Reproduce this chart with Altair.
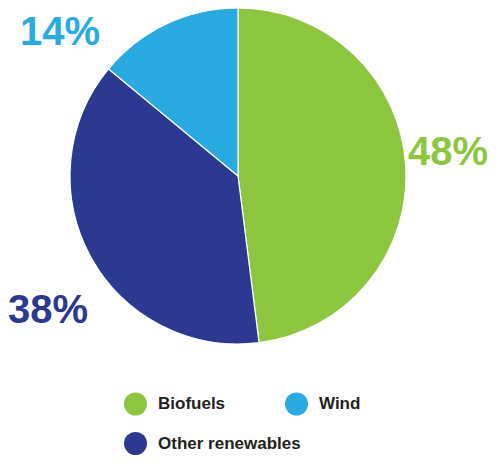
import altair as alt
import pandas as pd

categories = ["Biofuels", "Other renewables", "Wind"]
shares = [48, 38, 14]
legend_order = ["Biofuels", "Wind", "Other renewables"]
colors = ["#8CC63F", "#29ABE2", "#2B3990"]
labels = ["48%", "38%", "14%"]

df = pd.DataFrame({
    "category": categories,
    "share": shares,
    "label": labels,
    "order": list(range(len(categories))),
})

color_scale = alt.Scale(domain=legend_order, range=colors)

legend_style = dict(
    title=None,
    orient="none",
    direction="horizontal",
    symbolType="circle",
    symbolSize=529,
    symbolStrokeWidth=0,
    symbolOpacity=1,
    labelFont="Liberation Sans",
    labelFontWeight="bold",
    labelFontSize=17,
    labelColor="#231F20",
    labelOffset=11,
    labelLimit=300,
)

base = alt.Chart(df)

pie = base.mark_arc(outerRadius=168, stroke="white", strokeWidth=1.2).encode(
    theta=alt.Theta("share:Q", stack=True),
    order=alt.Order("order:Q"),
    color=alt.Color(
        "category:N",
        scale=color_scale,
        sort=legend_order,
        legend=alt.Legend(
            values=legend_order[:2],
            legendX=116,
            legendY=384.5,
            columnPadding=59,
            **legend_style,
        ),
    ),
    x=alt.value(230),
    y=alt.value(168),
)

def pct_label(cat, x, y, legend=None):
    return base.transform_filter(alt.datum.category == cat).mark_text(
        font="Liberation Sans",
        fontWeight="bold",
        fontSize=40,
        align="center",
        baseline="alphabetic",
        x=x,
        y=y,
    ).encode(
        text="label:N",
        color=alt.Color("category:N", scale=color_scale, legend=legend),
    )

legend2 = alt.Legend(
    values=legend_order[2:],
    legendX=116,
    legendY=424,
    **legend_style,
)

chart = alt.layer(
    pie,
    pct_label("Biofuels", 440, 157),
    pct_label("Other renewables", 40, 315, legend=legend2),
    pct_label("Wind", 52, 37),
).resolve_scale(color="independent").resolve_legend(color="independent").properties(
    width=480,
    height=447,
    padding=0,
    autosize=alt.AutoSizeParams(type="none"),
).configure_view(stroke=None)

chart.save("out.html", embed_options={"renderer": "svg", "actions": False})
